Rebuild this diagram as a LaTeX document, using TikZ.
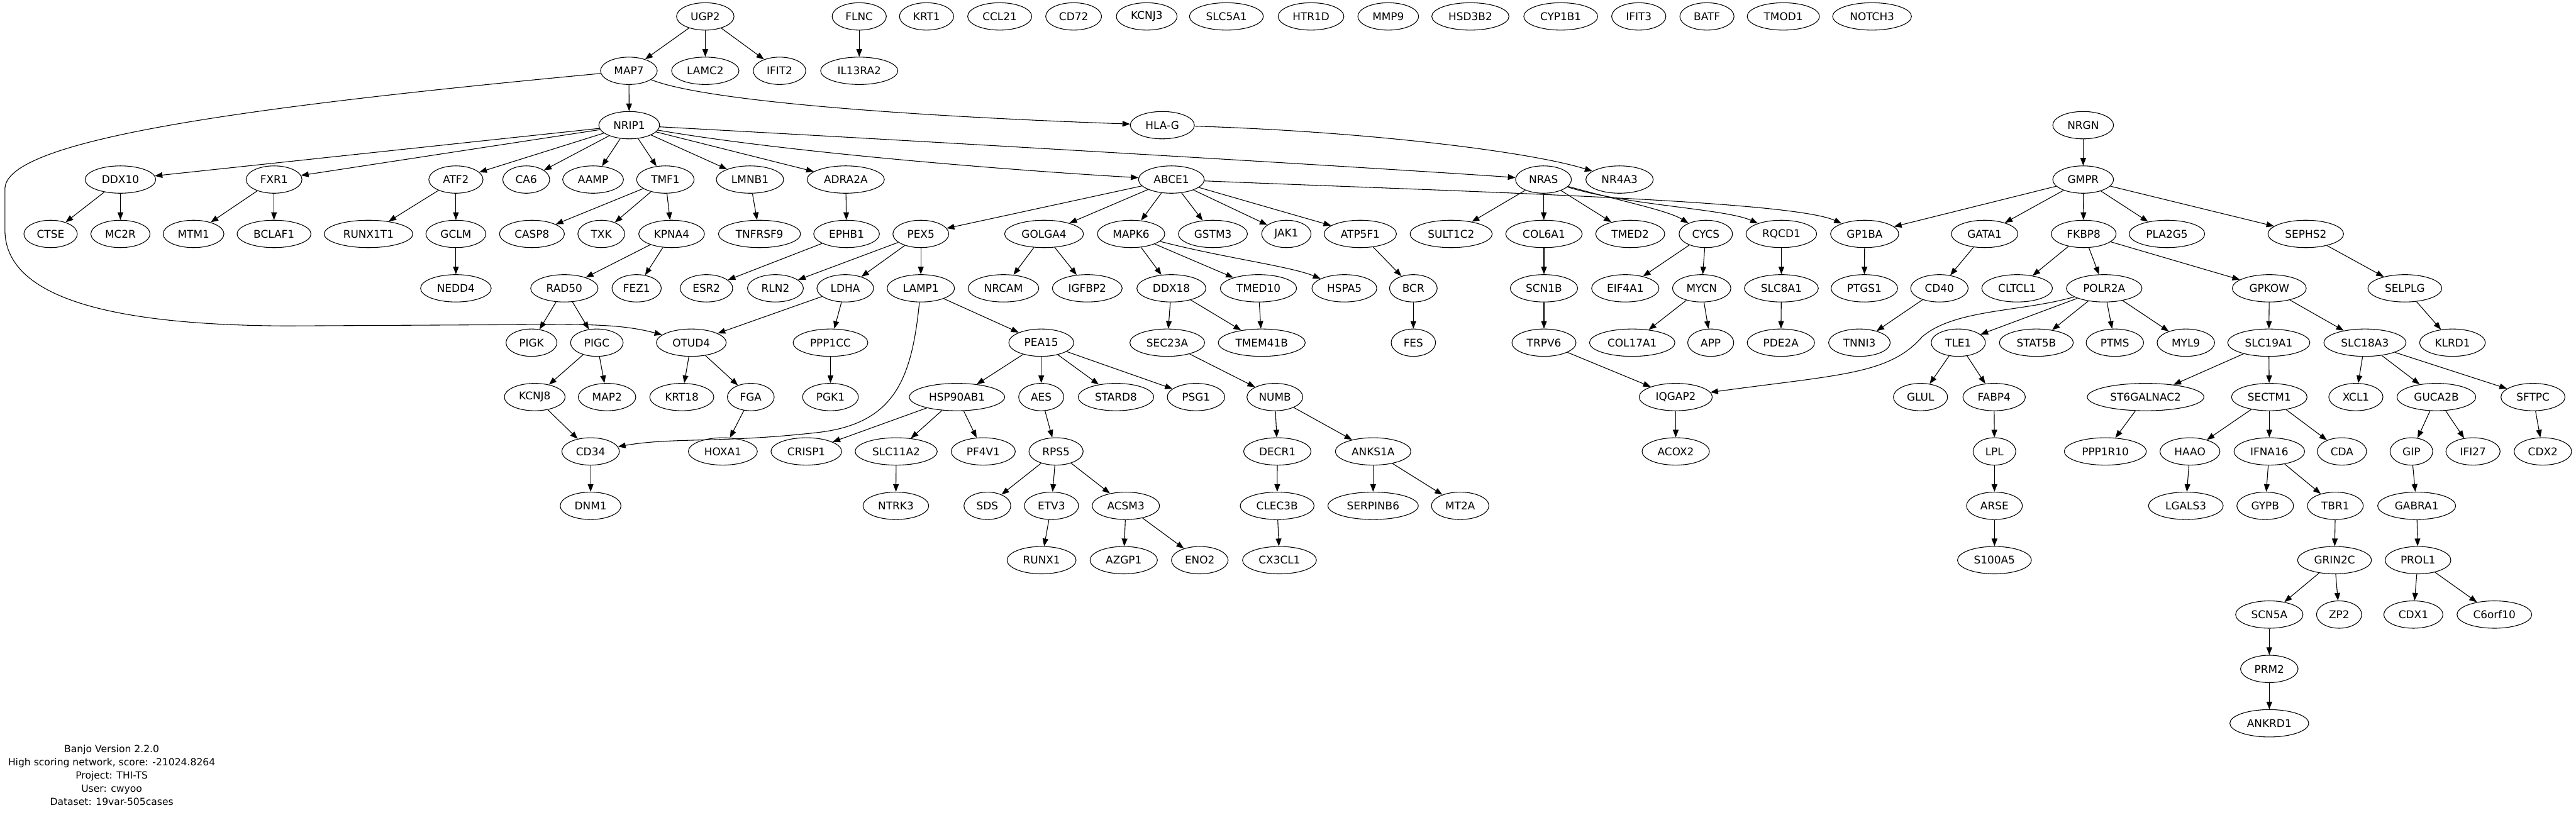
\documentclass[tikz,border=0pt]{standalone}
\usepackage{fontspec}
\setmainfont{DejaVu Sans}
\usetikzlibrary{shapes.geometric,arrows.meta}
\tikzset{
  gn/.style={ellipse, draw, line width=0.9pt, minimum height=36pt, inner sep=0pt, font=\fontsize{14}{16}\selectfont},
  ed/.style={-{Triangle[length=10pt,width=7.5pt]}, line width=0.9pt},
  infotext/.style={align=center, font=\fontsize{12.9}{17.5}\selectfont, inner sep=0pt}
}
\newcommand\GN[5]{\node[gn, minimum width=#4*2.162pt] (#1) at (#2,#3) {#5};}
\begin{document}
\begin{tikzpicture}[x=2.162pt, y=-2.162pt]
\useasboundingbox (0,0) rectangle (1568,496);
% row 0
\GN{UGP2}{429.3}{10}{35}{UGP2}
\GN{FLNC}{523}{10}{33}{FLNC}
\GN{KRT1}{564}{10}{33}{KRT1}
\GN{CCL21}{608.5}{10}{39}{CCL21}
\GN{CD72}{653.5}{10}{34}{CD72}
\GN{KCNJ3}{698}{10}{37}{KCNJ3}
\GN{SLC5A1}{746.5}{10}{45}{SLC5A1}
\GN{HTR1D}{798}{10}{40}{HTR1D}
\GN{MMP9}{845}{10}{37}{MMP9}
\GN{HSD3B2}{895}{10}{47}{HSD3B2}
\GN{CYP1B1}{950}{10}{45}{CYP1B1}
\GN{IFIT3}{997.5}{10}{33}{IFIT3}
\GN{BATF}{1039}{10}{33}{BATF}
\GN{TMOD1}{1085.5}{10}{44}{TMOD1}
\GN{NOTCH3}{1139.5}{10}{48}{NOTCH3}
% row 1
\GN{MAP7}{382.8}{43.1}{34.5}{MAP7}
\GN{LAMC2}{429.3}{43.1}{41}{LAMC2}
\GN{IFIT2}{474.5}{43.1}{32}{IFIT2}
\GN{IL13RA2}{523}{43.1}{47}{IL13RA2}
% row 2
\GN{NRIP1}{383}{76.2}{37}{NRIP1}
\GN{HLAG}{707.5}{76.2}{39}{HLA-G}
\GN{NRGN}{1268}{76.2}{37}{NRGN}
% row 3
\GN{DDX10}{73.3}{109.3}{43}{DDX10}
\GN{FXR1}{166.8}{109.3}{34}{FXR1}
\GN{ATF2}{277.5}{109.3}{33}{ATF2}
\GN{CA6}{320.3}{109.3}{28.5}{CA6}
\GN{AAMP}{361}{109.3}{37}{AAMP}
\GN{TMF1}{405}{109.3}{35}{TMF1}
\GN{LMNB1}{456.5}{109.3}{41}{LMNB1}
\GN{ADRA2A}{514.8}{109.3}{47}{ADRA2A}
\GN{ABCE1}{713}{109.3}{40}{ABCE1}
\GN{NRAS}{939.5}{109.3}{34}{NRAS}
\GN{NR4A3}{985.8}{109.3}{41}{NR4A3}
\GN{GMPR}{1268}{109.3}{37}{GMPR}
% row 4
\GN{CTSE}{30.8}{142.4}{32.5}{CTSE}
\GN{MC2R}{73.3}{142.4}{36}{MC2R}
\GN{MTM1}{117.8}{142.4}{37}{MTM1}
\GN{BCLAF1}{166.8}{142.4}{45}{BCLAF1}
\GN{RUNX1T1}{224.3}{142.4}{54}{RUNX1T1}
\GN{GCLM}{277.5}{142.4}{36.5}{GCLM}
\GN{CASP8}{323.8}{142.4}{39.5}{CASP8}
\GN{TXK}{366}{142.4}{28.5}{TXK}
\GN{KPNA4}{408.8}{142.4}{40}{KPNA4}
\GN{TNFRSF9}{462.3}{142.4}{50}{TNFRSF9}
\GN{EPHB1}{515.3}{142.4}{40}{EPHB1}
\GN{PEX5}{560.5}{142.4}{34}{PEX5}
\GN{GOLGA4}{635.5}{142.4}{48}{GOLGA4}
\GN{MAPK6}{688.5}{142.4}{41}{MAPK6}
\GN{GSTM3}{738.3}{142.4}{42}{GSTM3}
\GN{JAK1}{783}{142.4}{30}{JAK1}
\GN{ATP5F1}{828}{142.4}{44}{ATP5F1}
\GN{SULT1C2}{883.3}{142.4}{50}{SULT1C2}
\GN{COL6A1}{939.8}{142.4}{46.5}{COL6A1}
\GN{TMED2}{992.3}{142.4}{42}{TMED2}
\GN{CYCS}{1038.3}{142.4}{32.5}{CYCS}
\GN{RQCD1}{1084.3}{142.4}{43}{RQCD1}
\GN{GP1BA}{1135}{142.4}{41.5}{GP1BA}
\GN{GATA1}{1208}{142.4}{40.5}{GATA1}
\GN{FKBP8}{1268.3}{142.4}{39.5}{FKBP8}
\GN{PLA2G5}{1319}{142.4}{46}{PLA2G5}
\GN{SEPHS2}{1403.5}{142.4}{46}{SEPHS2}
% row 5
\GN{NEDD4}{277.5}{175.5}{43}{NEDD4}
\GN{RAD50}{343.5}{175.5}{41}{RAD50}
\GN{FEZ1}{387.5}{175.5}{30}{FEZ1}
\GN{ESR2}{430}{175.5}{32}{ESR2}
\GN{RLN2}{472}{175.5}{34}{RLN2}
\GN{LDHA}{514.5}{175.5}{34.5}{LDHA}
\GN{LAMP1}{560.5}{175.5}{41}{LAMP1}
\GN{NRCAM}{610.8}{175.5}{43}{NRCAM}
\GN{IGFBP2}{661.8}{175.5}{42.5}{IGFBP2}
\GN{DDX18}{713}{175.5}{42}{DDX18}
\GN{TMED10}{766}{175.5}{46.5}{TMED10}
\GN{HSPA5}{818.3}{175.5}{39.5}{HSPA5}
\GN{BCR}{860.3}{175.5}{29}{BCR}
\GN{SCN1B}{939.8}{175.5}{41}{SCN1B}
\GN{EIF4A1}{989.3}{175.5}{41}{EIF4A1}
\GN{MYCN}{1035.8}{175.5}{35.5}{MYCN}
\GN{SLC8A1}{1084.3}{175.5}{45}{SLC8A1}
\GN{PTGS1}{1134.8}{175.5}{40.5}{PTGS1}
\GN{CD40}{1180.5}{175.5}{35}{CD40}
\GN{CLTCL1}{1227.8}{175.5}{43}{CLTCL1}
\GN{POLR2A}{1280.8}{175.5}{46}{POLR2A}
\GN{GPKOW}{1381.3}{175.5}{45}{GPKOW}
\GN{SELPLG}{1463.8}{175.5}{45}{SELPLG}
% row 6
\GN{PIGK}{323.5}{208.6}{31}{PIGK}
\GN{PIGC}{363.3}{208.6}{32}{PIGC}
\GN{OTUD4}{420.8}{208.6}{42.5}{OTUD4}
\GN{PPP1CC}{505.5}{208.6}{45.5}{PPP1CC}
\GN{PEA15}{633.8}{208.6}{39.5}{PEA15}
\GN{SEC23A}{710.5}{208.6}{45.5}{SEC23A}
\GN{TMEM41B}{768}{208.6}{53}{TMEM41B}
\GN{FES}{860.3}{208.6}{27}{FES}
\GN{TRPV6}{939.8}{208.6}{39}{TRPV6}
\GN{COL17A1}{993.5}{208.6}{52}{COL17A1}
\GN{APP}{1041.3}{208.6}{28}{APP}
\GN{PDE2A}{1084}{208.6}{41}{PDE2A}
\GN{TNNI3}{1131.8}{208.6}{37.5}{TNNI3}
\GN{TLE1}{1192}{208.6}{33}{TLE1}
\GN{STAT5B}{1239.5}{208.6}{45}{STAT5B}
\GN{PTMS}{1287.3}{208.6}{35}{PTMS}
\GN{MYL9}{1330.5}{208.6}{35}{MYL9}
\GN{SLC19A1}{1381}{208.6}{50}{SLC19A1}
\GN{SLC18A3}{1439.5}{208.6}{50}{SLC18A3}
\GN{KLRD1}{1492.8}{208.6}{40}{KLRD1}
% row 7
\GN{KCNJ8}{325.5}{241.7}{37}{KCNJ8}
\GN{MAP2}{369.5}{241.7}{35}{MAP2}
\GN{KRT18}{415}{241.7}{39}{KRT18}
\GN{FGA}{457}{241.7}{28.5}{FGA}
\GN{PGK1}{505.5}{241.7}{34}{PGK1}
\GN{HSP90AB1}{582.5}{241.7}{58}{HSP90AB1}
\GN{AES}{633.8}{241.7}{27.5}{AES}
\GN{STARD8}{679.3}{241.7}{46}{STARD8}
\GN{PSG1}{728}{241.7}{35}{PSG1}
\GN{NUMB}{776}{241.7}{34}{NUMB}
\GN{IQGAP2}{1020}{241.7}{44.5}{IQGAP2}
\GN{GLUL}{1169}{241.7}{33}{GLUL}
\GN{FABP4}{1213.8}{241.7}{38}{FABP4}
\GN{ST6GALNAC2}{1306}{241.7}{71}{ST6GALNAC2}
\GN{SECTM1}{1381.3}{241.7}{46}{SECTM1}
\GN{XCL1}{1434}{241.7}{33}{XCL1}
\GN{GUCA2B}{1483}{241.7}{48}{GUCA2B}
\GN{SFTPC}{1541.8}{241.7}{39}{SFTPC}
% row 8
\GN{CD34}{359.5}{274.8}{35}{CD34}
\GN{HOXA1}{440}{274.8}{42}{HOXA1}
\GN{CRISP1}{490.8}{274.8}{43}{CRISP1}
\GN{SLC11A2}{545.5}{274.8}{50}{SLC11A2}
\GN{PF4V1}{598.5}{274.8}{39}{PF4V1}
\GN{RPS5}{642.8}{274.8}{33}{RPS5}
\GN{DECR1}{777.5}{274.8}{41}{DECR1}
\GN{ANKS1A}{835.8}{274.8}{46}{ANKS1A}
\GN{ACOX2}{1020}{274.8}{41}{ACOX2}
\GN{LPL}{1214}{274.8}{26}{LPL}
\GN{PPP1R10}{1281.5}{274.8}{50}{PPP1R10}
\GN{HAAO}{1333}{274.8}{36.5}{HAAO}
\GN{IFNA16}{1381.3}{274.8}{43}{IFNA16}
\GN{CDA}{1425.5}{274.8}{30}{CDA}
\GN{GIP}{1467.8}{274.8}{26}{GIP}
\GN{IFI27}{1505.3}{274.8}{33}{IFI27}
\GN{CDX2}{1547.8}{274.8}{35}{CDX2}
% row 9
\GN{DNM1}{359.5}{307.9}{37}{DNM1}
\GN{NTRK3}{545.3}{307.9}{40}{NTRK3}
\GN{SDS}{601}{307.9}{28.5}{SDS}
\GN{ETV3}{640}{307.9}{33}{ETV3}
\GN{ACSM3}{685.3}{307.9}{41}{ACSM3}
\GN{CLEC3B}{777.4}{307.9}{45}{CLEC3B}
\GN{SERPINB6}{835.8}{307.9}{55}{SERPINB6}
\GN{MT2A}{888.8}{307.9}{35}{MT2A}
\GN{ARSE}{1214}{307.9}{34}{ARSE}
\GN{LGALS3}{1330.5}{307.9}{45.5}{LGALS3}
\GN{GYPB}{1378.8}{307.9}{34.5}{GYPB}
\GN{TBR1}{1421.5}{307.9}{34}{TBR1}
\GN{GABRA1}{1471}{307.9}{47.5}{GABRA1}
% row 10
\GN{RUNX1}{634}{341}{42}{RUNX1}
\GN{AZGP1}{684}{341}{41}{AZGP1}
\GN{ENO2}{730.3}{341}{34.5}{ENO2}
\GN{CX3CL1}{778.8}{341}{45}{CX3CL1}
\GN{S100A5}{1214}{341}{45}{S100A5}
\GN{GRIN2C}{1421}{341}{45}{GRIN2C}
\GN{PROL1}{1471.8}{341}{40}{PROL1}
% row 11
\GN{SCN5A}{1381.3}{374.1}{41}{SCN5A}
\GN{ZP2}{1423.8}{374.1}{27.5}{ZP2}
\GN{CDX1}{1469}{374.1}{36}{CDX1}
\GN{C6orf10}{1518.3}{374.1}{45.5}{C6orf10}
% rows 12-13
\GN{PRM2}{1381.3}{407.2}{35}{PRM2}
\GN{ANKRD1}{1381.3}{440.3}{48}{ANKRD1}
% info
\node[infotext] (info) at (68,471.8) {Banjo Version 2.2.0\\High scoring network, score: -21024.8264\\Project: THI-TS\\User: cwyoo\\Dataset: 19var-505cases};
% straight edges
\foreach \a/\b in {UGP2/MAP7,UGP2/LAMC2,UGP2/IFIT2,FLNC/IL13RA2,MAP7/NRIP1,
 NRIP1/DDX10,NRIP1/FXR1,NRIP1/ATF2,NRIP1/CA6,NRIP1/AAMP,NRIP1/TMF1,NRIP1/LMNB1,NRIP1/ADRA2A,
 DDX10/CTSE,DDX10/MC2R,FXR1/MTM1,FXR1/BCLAF1,ATF2/RUNX1T1,ATF2/GCLM,GCLM/NEDD4,
 TMF1/CASP8,TMF1/TXK,TMF1/KPNA4,KPNA4/RAD50,KPNA4/FEZ1,RAD50/PIGK,RAD50/PIGC,PIGC/KCNJ8,PIGC/MAP2,
 KCNJ8/CD34,CD34/DNM1,LMNB1/TNFRSF9,ADRA2A/EPHB1,EPHB1/ESR2,
 ABCE1/PEX5,ABCE1/GOLGA4,ABCE1/MAPK6,ABCE1/GSTM3,ABCE1/JAK1,ABCE1/ATP5F1,
 PEX5/RLN2,PEX5/LDHA,PEX5/LAMP1,LDHA/OTUD4,LDHA/PPP1CC,OTUD4/KRT18,OTUD4/FGA,FGA/HOXA1,PPP1CC/PGK1,
 LAMP1/PEA15,PEA15/HSP90AB1,PEA15/AES,PEA15/STARD8,PEA15/PSG1,HSP90AB1/CRISP1,HSP90AB1/SLC11A2,HSP90AB1/PF4V1,
 SLC11A2/NTRK3,AES/RPS5,RPS5/SDS,RPS5/ETV3,RPS5/ACSM3,ETV3/RUNX1,ACSM3/AZGP1,ACSM3/ENO2,
 GOLGA4/NRCAM,GOLGA4/IGFBP2,MAPK6/DDX18,MAPK6/TMED10,DDX18/SEC23A,DDX18/TMEM41B,TMED10/TMEM41B,
 SEC23A/NUMB,NUMB/DECR1,NUMB/ANKS1A,DECR1/CLEC3B,CLEC3B/CX3CL1,ANKS1A/SERPINB6,ANKS1A/MT2A,
 ATP5F1/BCR,BCR/FES,NRAS/SULT1C2,NRAS/COL6A1,NRAS/TMED2,COL6A1/SCN1B,SCN1B/TRPV6,TRPV6/IQGAP2,IQGAP2/ACOX2,
 CYCS/EIF4A1,CYCS/MYCN,MYCN/COL17A1,MYCN/APP,RQCD1/SLC8A1,SLC8A1/PDE2A,GP1BA/PTGS1,
 NRGN/GMPR,GMPR/GP1BA,GMPR/GATA1,GMPR/FKBP8,GMPR/PLA2G5,GMPR/SEPHS2,GATA1/CD40,CD40/TNNI3,
 FKBP8/CLTCL1,FKBP8/POLR2A,FKBP8/GPKOW,POLR2A/TLE1,POLR2A/STAT5B,POLR2A/PTMS,POLR2A/MYL9,
 TLE1/GLUL,TLE1/FABP4,FABP4/LPL,LPL/ARSE,ARSE/S100A5,GPKOW/SLC19A1,GPKOW/SLC18A3,
 SLC19A1/ST6GALNAC2,SLC19A1/SECTM1,ST6GALNAC2/PPP1R10,SECTM1/HAAO,SECTM1/IFNA16,SECTM1/CDA,
 HAAO/LGALS3,IFNA16/GYPB,IFNA16/TBR1,TBR1/GRIN2C,GRIN2C/SCN5A,GRIN2C/ZP2,SCN5A/PRM2,PRM2/ANKRD1,
 SLC18A3/XCL1,SLC18A3/GUCA2B,SLC18A3/SFTPC,GUCA2B/GIP,GUCA2B/IFI27,GIP/GABRA1,GABRA1/PROL1,
 PROL1/CDX1,PROL1/C6orf10,SFTPC/CDX2,SEPHS2/SELPLG,SELPLG/KLRD1}
 \draw[ed] (\a) -- (\b);
% curved edges
\draw[ed] (MAP7) .. controls (150,65) and (3,85) .. (3,115) -- (3,140)
  .. controls (3,185) and (80,198) .. (175,198.4) -- (340,197.5)
  .. controls (370,197.5) and (385,199) .. (OTUD4);
\draw[ed] (MAP7) .. controls (430,62) and (560,71) .. (HLAG);
\draw[ed] (HLAG) .. controls (830,80) and (930,92) .. (NR4A3);
\draw[ed] (NRIP1) .. controls (600,88) and (850,103) .. (NRAS);
\draw[ed] (NRIP1) .. controls (480,93) and (620,104) .. (ABCE1);
\draw[ed] (ABCE1) .. controls (900,117) and (1090,122) .. (GP1BA);
\draw[ed] (NRAS) .. controls (985,122) and (1015,128) .. (CYCS);
\draw[ed] (NRAS) .. controls (990,125) and (1050,127) .. (RQCD1);
\draw[ed] (MAPK6) .. controls (745,157) and (785,162) .. (HSPA5);
\draw[ed] (LAMP1) .. controls (555,230) and (545,257) .. (500,263)
  .. controls (440,270) and (410,266) .. (CD34);
\draw[ed] (POLR2A) .. controls (1230,190) and (1190,188) .. (1170,205)
  .. controls (1150,228) and (1120,228) .. (IQGAP2);
\end{tikzpicture}
\end{document}
